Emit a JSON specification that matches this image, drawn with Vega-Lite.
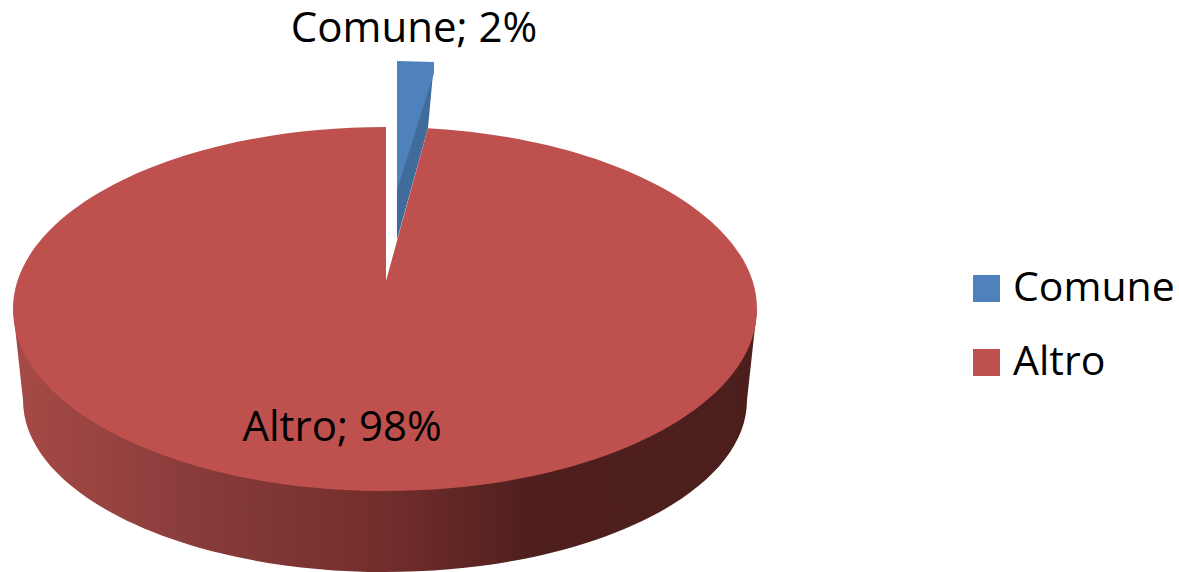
{
  "$schema": "https://vega.github.io/schema/vega-lite/v6.json",
  "width": 1178,
  "height": 572,
  "autosize": {"type": "none"},
  "padding": 0,
  "background": "white",
  "config": {"view": {"stroke": null}, "font": "Open Sans"},
  "data": {"values": [
    {"category": "Comune", "share": 2, "label": "Comune; 2%"},
    {"category": "Altro", "share": 98, "label": "Altro; 98%"}
  ]},
  "layer": [
    {
      "transform": [{"filter": "datum.category === 'Altro'"}],
      "mark": {
        "type": "point", "filled": true, "opacity": 1, "size": 4,
        "shape": "M-576 23 L-566 114 A362 172 0 0 0 158 114 L168 23 Z",
        "fill": {
          "gradient": "linear", "x1": 0, "y1": 0, "x2": 1, "y2": 0,
          "stops": [
            {"offset": 0, "color": "#a64a47"},
            {"offset": 0.25, "color": "#883c3a"},
            {"offset": 0.5, "color": "#722e2c"},
            {"offset": 0.7, "color": "#4e1f1d"},
            {"offset": 1, "color": "#4c1e1c"}
          ]
        }
      }
    },
    {
      "transform": [{"filter": "datum.category === 'Comune'"}],
      "mark": {
        "type": "point", "filled": true, "opacity": 1, "size": 4,
        "shape": "M-155 -224 L-161 -158 L-192 -46 L-192 -100 Z",
        "fill": "#406c9c"
      }
    },
    {
      "transform": [{"filter": "datum.category === 'Comune'"}],
      "mark": {
        "type": "point", "filled": true, "opacity": 1, "size": 4,
        "shape": "M-192 -225 L-155 -224 L-155 -213 L-192 -96 Z"
      },
      "encoding": {
        "color": {
          "field": "category", "type": "nominal",
          "scale": {"domain": ["Comune", "Altro"], "range": ["#4f81bd", "#be504d"]},
          "legend": {
            "orient": "none", "legendX": 966, "legendY": 268, "title": null,
            "symbolType": "square", "symbolSize": 729, "symbolStrokeWidth": 0,
            "labelFont": "Open Sans", "labelFontSize": 41, "labelColor": "#000000",
            "labelOffset": 6, "rowPadding": 32, "labelLimit": 300
          }
        }
      }
    },
    {
      "transform": [{"filter": "datum.category === 'Altro'"}],
      "mark": {
        "type": "point", "filled": true, "opacity": 1, "size": 4,
        "shape": "M-203 -5 L-203 -159 A372 182 0 0 0 -576 23 A372 182 0 0 0 168 23 A372 182 0 0 0 -161 -157.8 Z"
      },
      "encoding": {
        "color": {"field": "category", "type": "nominal"}
      }
    },
    {
      "mark": {"type": "text", "font": "Open Sans", "fontSize": 42, "color": "#000000", "align": "center", "baseline": "alphabetic"},
      "encoding": {
        "text": {"field": "label", "type": "nominal"},
        "x": {"field": "category", "type": "nominal", "axis": null, "scale": {"domain": ["Comune", "Altro"], "range": [414, 342], "padding": 0}},
        "y": {"field": "category", "type": "nominal", "axis": null, "scale": {"domain": ["Comune", "Altro"], "range": [42, 441], "padding": 0}}
      }
    }
  ]
}
